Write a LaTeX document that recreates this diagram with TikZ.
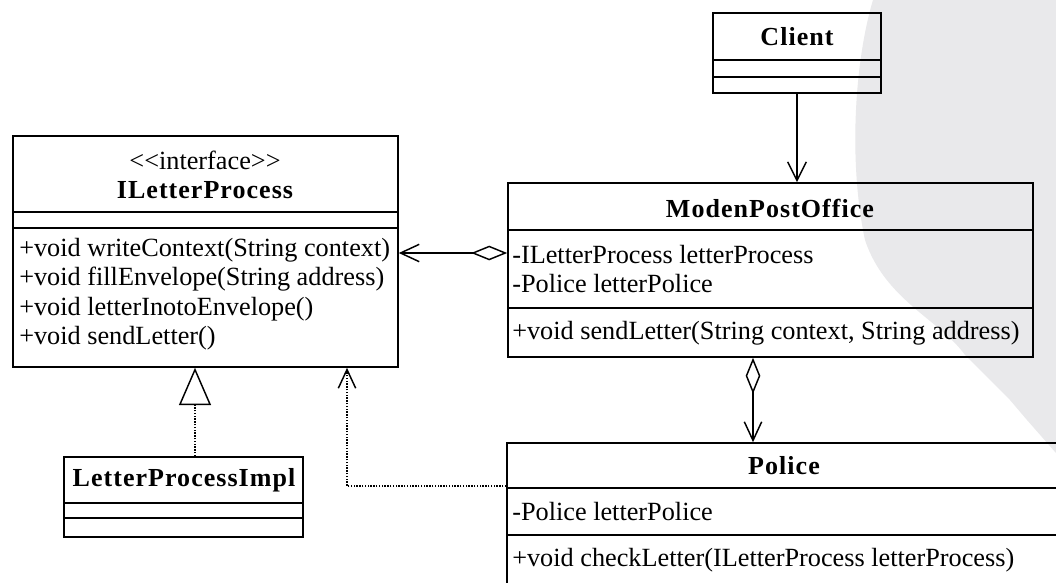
\documentclass[tikz,border=0pt]{standalone}
\usepackage{fontspec}
\setmainfont{Liberation Serif}
\usetikzlibrary{arrows.meta,fit}
\definecolor{wm}{HTML}{E9E9EB}
\tikzset{
  x=0.75pt, y=-0.75pt,
  box/.style={draw, line width=1.2pt, inner sep=0pt},
  divider/.style={line width=1.2pt},
  txt/.style={inner sep=0pt, font=\fontsize{19.7}{22}\selectfont},
  lft/.style={txt, anchor=west},
  cname/.style={inner sep=0pt, font=\fontsize{19.5}{22}\selectfont\bfseries\addfontfeatures{LetterSpace=4}},
  conn/.style={line width=1.1pt},
  assoc/.style={conn, -{Straight Barb[length=14pt,width=14pt]}},
  agg/.style={conn, {Diamond[open,length=27pt,width=11pt]}-{Straight Barb[length=14pt,width=13pt]}},
  dep/.style={conn, densely dotted, -{Straight Barb[length=14pt,width=13pt]}},
  real/.style={conn, densely dotted, -{Triangle[open,length=28pt,width=24pt]}}
}
\begin{document}
\begin{tikzpicture}
\useasboundingbox (0,0) rectangle (1056,582);
\clip (0,0) rectangle (1056,582);
\fill[white] (0,0) rectangle (1056,582);
% background watermark tint
\fill[wm] (873,0) .. controls (855,60) and (848,160) .. (865,240)
  .. controls (885,300) and (940,320) .. (965,355)
  -- (1010,400) -- (1027,420) -- (1056,453) -- (1056,0) -- cycle;

% ILetterProcess
\node[box, fit={(13,136) (398,367)}] (ilp) {};
\draw[divider] (ilp.west |- 0,212) -- (ilp.east |- 0,212);
\draw[divider] (ilp.west |- 0,228) -- (ilp.east |- 0,228);
\node[txt] (ilpst) at (205,160) {<\kern0pt<interface>\kern0pt>};
\node[cname] (ilpn) at (205,190) {ILetterProcess};
\node[lft] (ilpm1) at (19,250) {+void writeContext(String context)};
\node[lft] (ilpm2) at (19,279) {+void fillEnvelope(String address)};
\node[lft] (ilpm3) at (19,309) {+void letterInotoEnvelope()};
\node[lft] (ilpm4) at (19,338) {+void sendLetter()};

% Client
\node[box, fit={(713,13) (881,93)}] (client) {};
\draw[divider] (client.west |- 0,60) -- (client.east |- 0,60);
\draw[divider] (client.west |- 0,77) -- (client.east |- 0,77);
\node[cname] (clientn) at (797,37) {Client};

% ModenPostOffice
\node[box, fit={(508,183) (1033,357)}] (moden) {};
\draw[divider] (moden.west |- 0,230) -- (moden.east |- 0,230);
\draw[divider] (moden.west |- 0,308) -- (moden.east |- 0,308);
\node[cname] (modenn) at (770,208) {ModenPostOffice};
\node[lft] (modena1) at (512,255) {-ILetterProcess letterProcess};
\node[lft] (modena2) at (512,284) {-Police letterPolice};
\node[lft] (modenm1) at (512,333) {+void sendLetter(String context, String address)};

% Police (runs past the picture's edges)
\node[box, fit={(507,443) (1062,600)}] (police) {};
\draw[divider] (police.west |- 0,488) -- (police.east |- 0,488);
\draw[divider] (police.west |- 0,535) -- (police.east |- 0,535);
\node[cname] (policen) at (784,466) {Police};
\node[lft] (policea1) at (512,512) {-Police letterPolice};
\node[lft] (policem1) at (512,560) {+void checkLetter(ILetterProcess letterProcess)};

% LetterProcessImpl
\node[box, fit={(64,457) (303,537)}] (lpi) {};
\draw[divider] (lpi.west |- 0,503) -- (lpi.east |- 0,503);
\draw[divider] (lpi.west |- 0,518) -- (lpi.east |- 0,518);
\node[cname] (lpin) at (184,480) {LetterProcessImpl};

% connectors
\coordinate (cx) at (797,0);
\coordinate (px) at (753,0);
\coordinate (rx) at (195,0);
\coordinate (dx) at (347,486);
\draw[assoc] (client.south) -- (moden.north -| cx);
\draw[agg] (moden.west |- 0,253) -- (ilp.east |- 0,253);
\draw[agg] (moden.south -| px) -- (police.north -| px);
\draw[real] (lpi.north -| rx) -- (ilp.south -| rx);
\draw[dep] (police.west |- dx) -- (dx) -- (ilp.south -| dx);
\end{tikzpicture}
\end{document}
